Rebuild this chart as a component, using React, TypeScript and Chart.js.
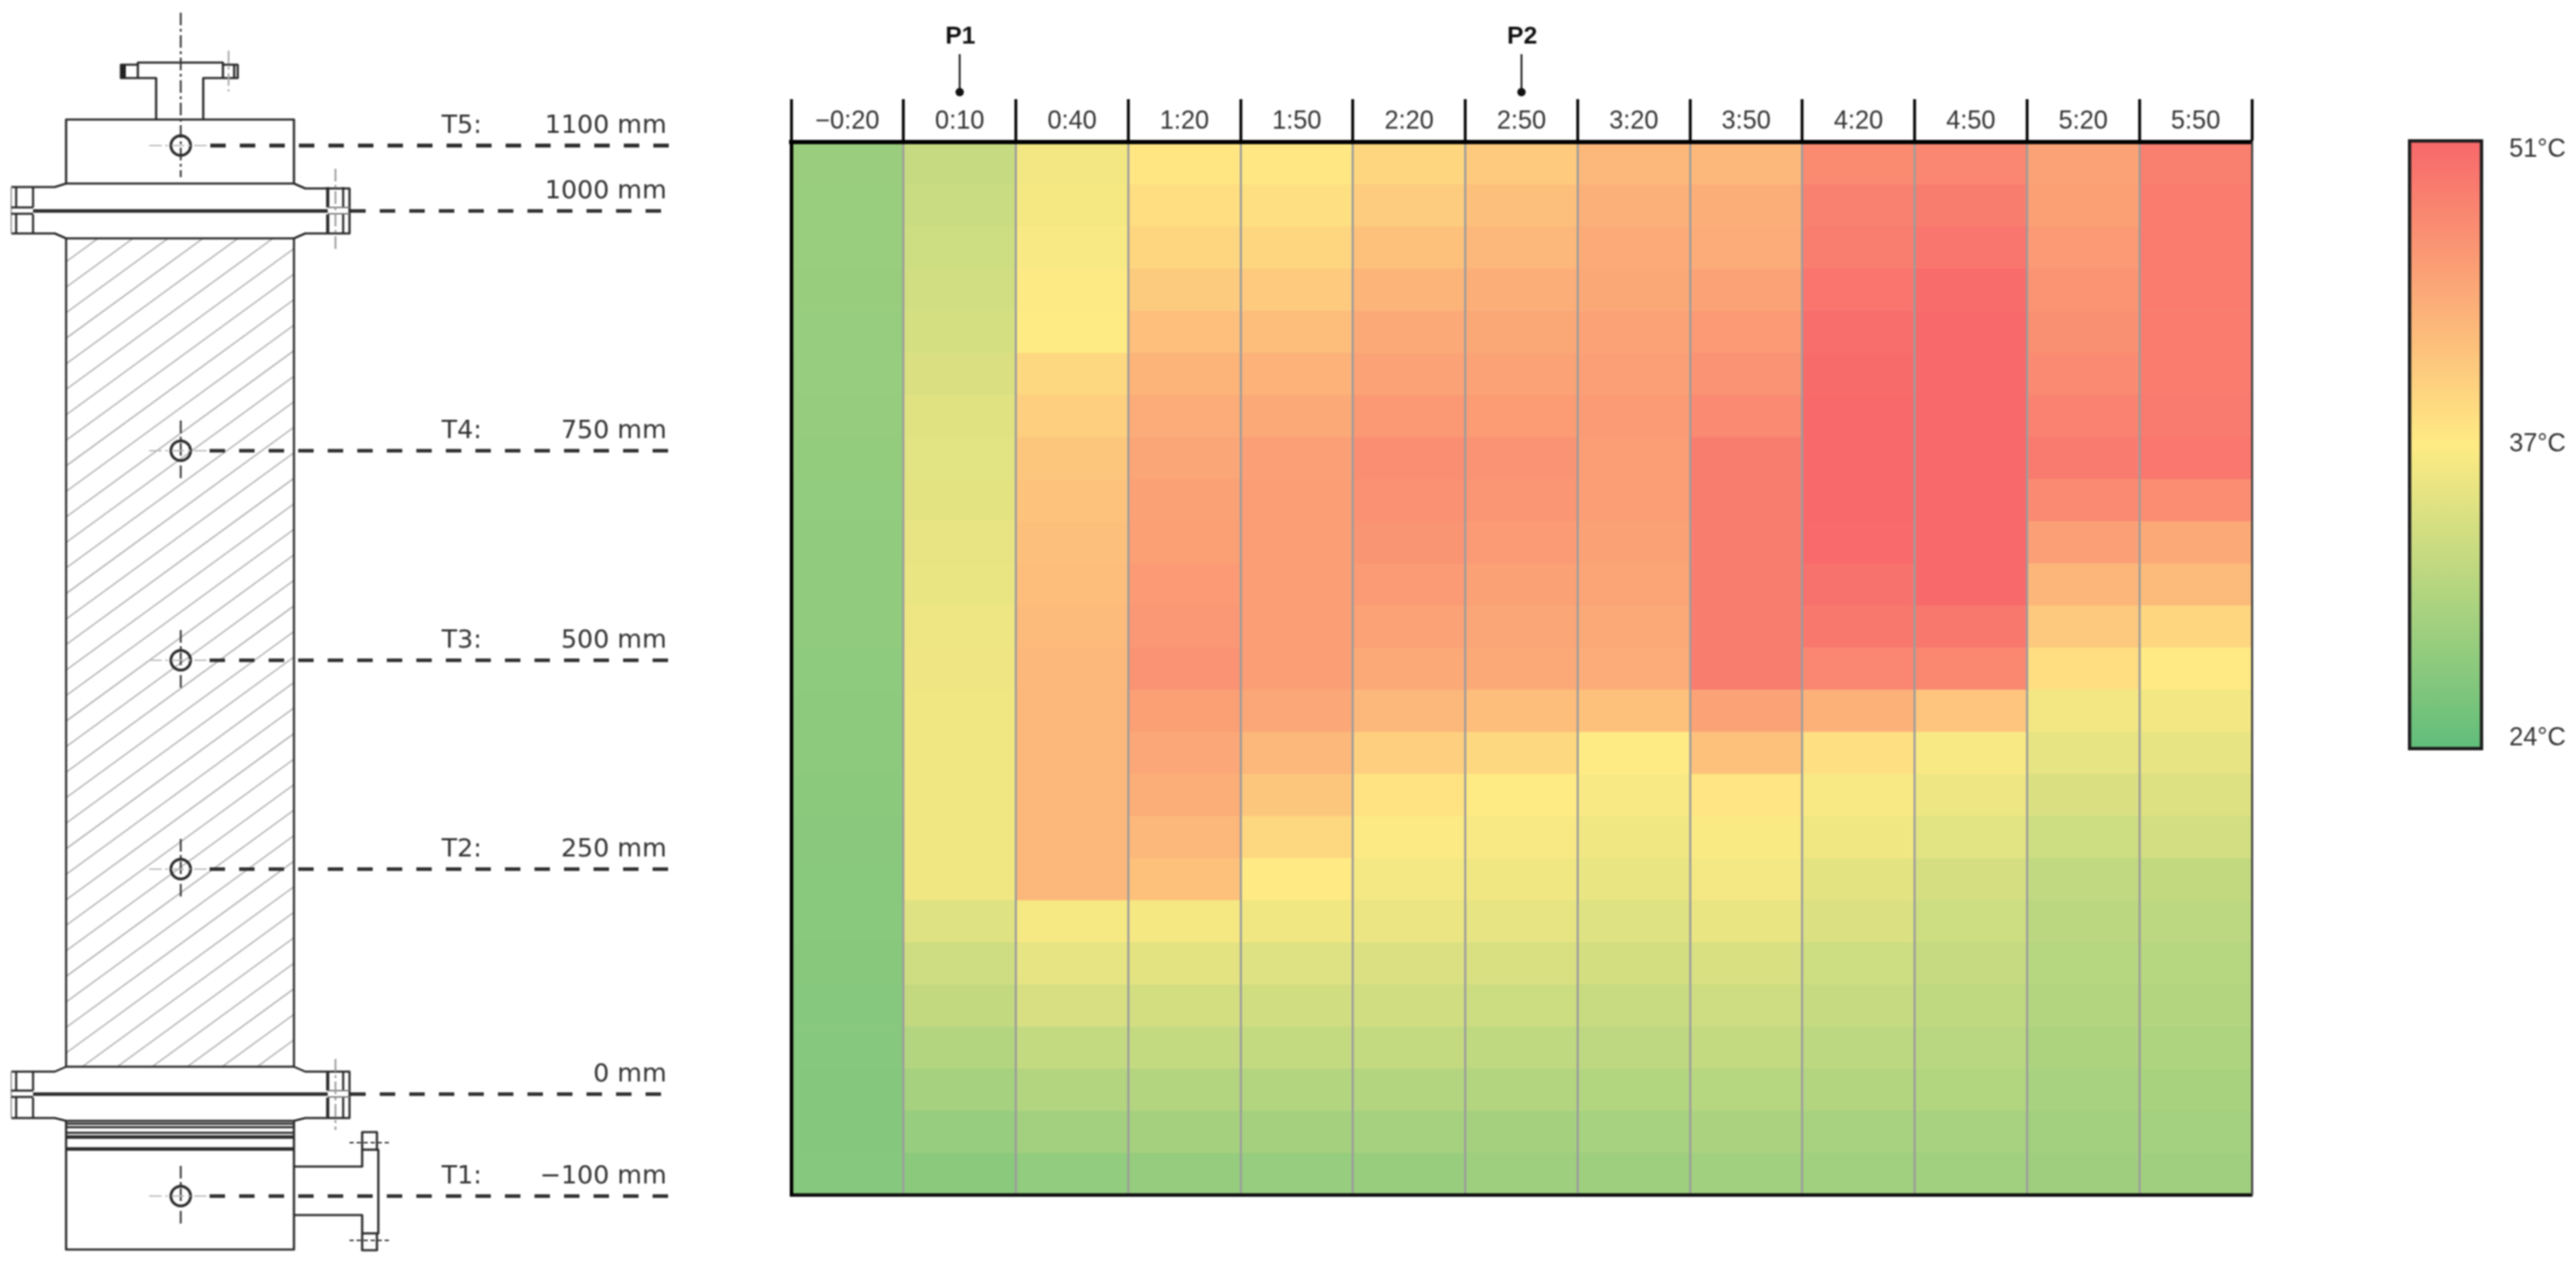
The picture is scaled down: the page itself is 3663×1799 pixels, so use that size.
import React, { useEffect, useRef } from "react";
import { Chart, registerables } from "chart.js";

Chart.register(...registerables);

const timeLabels = ["\u22120:20", "0:10", "0:40", "1:20", "1:50", "2:20", "2:50", "3:20", "3:50", "4:20", "4:50", "5:20", "5:50"];

// Temperature (deg C) per column, from the top row to the bottom row.
const tMinus020 = [28.8, 28.7, 28.7, 28.6, 28.5, 28.4, 28.3, 28.2, 28.1, 28.0, 27.9, 27.9, 27.8, 27.7, 27.6, 27.5, 27.4, 27.3, 27.2, 27.1, 27.0, 27.0, 26.9, 26.9, 27.0];
const t010 = [32.6, 32.9, 33.2, 33.5, 33.8, 34.3, 34.8, 35.0, 35.2, 35.5, 35.7, 36.0, 36.1, 36.2, 36.2, 36.2, 36.2, 36.2, 34.7, 33.3, 32.2, 31.0, 29.8, 28.5, 27.5];
const t040 = [36.4, 36.6, 36.9, 37.3, 37.5, 39.5, 40.4, 41.3, 41.7, 42.0, 42.3, 42.6, 42.8, 42.9, 42.9, 42.9, 42.9, 42.9, 36.7, 35.3, 34.0, 32.4, 30.9, 29.5, 28.1];
const t120 = [38.0, 38.9, 39.7, 40.8, 42.1, 43.2, 44.0, 44.7, 45.2, 45.4, 45.9, 46.2, 46.6, 45.4, 44.6, 43.8, 42.9, 41.9, 36.6, 35.1, 33.7, 32.4, 30.9, 29.7, 28.3];
const t150 = [37.8, 38.6, 39.7, 40.9, 42.2, 43.4, 44.3, 45.3, 45.5, 45.5, 45.5, 45.5, 45.5, 44.6, 42.9, 41.3, 39.5, 37.6, 36.2, 34.7, 33.4, 32.4, 31.0, 29.7, 28.5];
const t220 = [39.7, 40.7, 41.9, 43.2, 44.3, 45.0, 46.0, 47.2, 46.8, 46.4, 45.8, 45.1, 44.4, 42.8, 40.4, 38.4, 37.2, 36.5, 35.8, 34.4, 33.4, 32.3, 30.9, 29.8, 28.6];
const t250 = [40.9, 42.0, 42.9, 43.8, 44.5, 45.0, 45.7, 46.6, 46.3, 45.8, 45.2, 44.7, 44.3, 42.3, 39.5, 37.5, 36.9, 36.2, 35.3, 34.1, 33.1, 32.0, 30.9, 29.7, 29.0];
const t320 = [42.9, 43.6, 44.1, 44.5, 45.0, 45.3, 45.8, 45.6, 45.5, 45.2, 44.9, 44.4, 44.0, 41.9, 37.5, 36.9, 36.2, 35.6, 34.7, 33.7, 32.7, 31.8, 30.8, 29.9, 29.0];
const t350 = [42.8, 43.8, 44.0, 45.0, 45.9, 46.6, 47.6, 48.9, 48.9, 48.9, 48.9, 48.9, 48.9, 45.0, 41.9, 38.1, 37.1, 36.5, 35.6, 34.1, 33.3, 32.3, 31.2, 30.2, 29.4];
const t420 = [47.5, 48.5, 48.8, 49.8, 50.5, 50.8, 51.0, 51.0, 51.0, 50.9, 50.1, 49.4, 47.9, 43.5, 38.7, 37.0, 36.2, 35.2, 34.4, 33.2, 32.6, 31.7, 30.9, 30.0, 29.4];
const t450 = [47.9, 48.9, 49.6, 50.7, 51.0, 51.0, 51.0, 51.0, 51.0, 51.0, 51.0, 49.4, 47.8, 41.4, 37.0, 36.0, 35.0, 33.9, 33.2, 32.5, 32.0, 31.4, 30.8, 30.0, 29.4];
const t520 = [45.0, 45.4, 45.9, 46.5, 47.0, 47.6, 48.3, 49.1, 47.6, 45.3, 43.0, 41.0, 38.9, 36.4, 35.4, 34.3, 33.2, 32.1, 31.6, 31.3, 30.9, 30.4, 30.0, 29.5, 29.2];
const t550 = [48.7, 49.0, 49.0, 49.0, 49.0, 49.0, 49.1, 49.5, 47.3, 44.4, 42.5, 39.7, 37.6, 36.4, 35.4, 34.6, 33.6, 32.2, 31.7, 31.3, 30.9, 30.5, 30.1, 29.6, 29.3];

const columns = [tMinus020, t010, t040, t120, t150, t220, t250, t320, t350, t420, t450, t520, t550];

const colorMin = 24;
const colorMid = 37.5;
const colorMax = 51;
const cMinRGB = [0x63, 0xbe, 0x7b];
const cMidRGB = [0xff, 0xeb, 0x84];
const cMaxRGB = [0xf8, 0x69, 0x6b];

const legendTicks = [24, 37.5, 51];
const legendLabels = ["24\u00b0C", "37\u00b0C", "51\u00b0C"];

const peaks = [{ label: "P1", at: "0:10" }, { label: "P2", at: "2:50" }];

const sensorLevels = [
  { y: 207, tag: "T5:", height: "1100 mm", from: 299, weight: 5.5 },
  { y: 300, tag: "", height: "1000 mm", from: 498, weight: 5 },
  { y: 641, tag: "T4:", height: "750 mm", from: 298, weight: 5 },
  { y: 939, tag: "T3:", height: "500 mm", from: 298, weight: 5 },
  { y: 1236, tag: "T2:", height: "250 mm", from: 298, weight: 5 },
  { y: 1556, tag: "", height: "0 mm", from: 498, weight: 5 },
  { y: 1701, tag: "T1:", height: "\u2212100 mm", from: 298, weight: 5 },
];

function colorOf(v: number) {
  const lo = v <= colorMid;
  const t = lo ? (v - colorMin) / (colorMid - colorMin) : (v - colorMid) / (colorMax - colorMid);
  const a = lo ? cMinRGB : cMidRGB;
  const b = lo ? cMidRGB : cMaxRGB;
  const m = a.map((c, i) => Math.round(c + (b[i] - c) * t));
  return `rgb(${m[0]},${m[1]},${m[2]})`;
}

const INK = "#2a2a2a";

function poly(c: CanvasRenderingContext2D, pts: number[][]) {
  c.beginPath();
  pts.forEach((p, i) => (i ? c.lineTo(p[0], p[1]) : c.moveTo(p[0], p[1])));
  c.stroke();
}

function centerDash(c: CanvasRenderingContext2D, x1: number, y1: number, x2: number, y2: number, color = "#333", width = 2.6) {
  c.save();
  c.lineWidth = width;
  c.strokeStyle = color;
  c.setLineDash([18, 5, 4, 5]);
  poly(c, [[x1, y1], [x2, y2]]);
  c.restore();
}

function flange(c: CanvasRenderingContext2D, topL: number, topR: number, seam: number, bottom: number, shTop: number, shBottom: number) {
  poly(c, [[94, shTop], [418, shTop], [434, topR], [497, topR], [497, bottom], [434, bottom], [418, shBottom], [94, shBottom], [78, bottom], [16, bottom]]);
  poly(c, [[94, shTop], [78, topL], [16, topL]]);
  c.save();
  c.lineWidth = 5;
  poly(c, [[47, seam], [466, seam]]);
  c.restore();
  c.lineWidth = 3;
  [23, 47, 466, 488].forEach((x) => {
    c.lineWidth = x === 466 ? 4.5 : 3;
    poly(c, [[x, topL], [x, seam - 5]]);
    poly(c, [[x, seam + 5], [x, bottom]]);
  });
  c.lineWidth = 3;
  c.save();
  c.strokeStyle = "#999";
  c.lineWidth = 2;
  poly(c, [[16, topL], [16, bottom]]);
  c.restore();
  poly(c, [[16, seam - 5], [47, seam - 5]]);
  poly(c, [[16, seam + 4], [47, seam + 4]]);
  c.save();
  c.strokeStyle = "#777";
  c.lineWidth = 2;
  poly(c, [[466, seam - 5], [497, seam - 5]]);
  poly(c, [[466, seam + 4], [497, seam + 4]]);
  c.restore();
}

function drawSchematic(c: CanvasRenderingContext2D) {
  c.save();
  c.strokeStyle = INK;
  c.lineWidth = 3.2;
  c.lineJoin = "round";
  // hatching of the packed section
  c.save();
  c.beginPath();
  c.rect(94, 339, 324, 1178);
  c.clip();
  c.strokeStyle = "#b2b2b2";
  c.lineWidth = 2;
  for (let i = -20; i < 42; i++) {
    const y0 = 590 + i * 36.3;
    poly(c, [[94, y0], [418, y0 - 324 * 0.73]]);
  }
  c.restore();
  // top nozzle
  poly(c, [[222, 170], [222, 111], [172, 111], [172, 92], [196, 92], [196, 89], [317, 89], [317, 92], [338, 92], [338, 111], [289, 111], [289, 170]]);
  poly(c, [[196, 92], [196, 111]]);
  poly(c, [[317, 92], [317, 111]]);
  poly(c, [[333, 92], [333, 111]]);
  c.save();
  c.fillStyle = "#222";
  c.fillRect(172, 92, 7, 19);
  c.restore();
  centerDash(c, 325, 72, 325, 130, "#aaa", 2.5);
  // head
  poly(c, [[94, 261], [94, 170], [418, 170], [418, 261]]);
  flange(c, 266, 268, 300, 332, 261, 339);
  poly(c, [[94, 339], [94, 1517]]);
  poly(c, [[418, 339], [418, 1517]]);
  flange(c, 1524, 1524, 1556, 1590, 1517, 1594);
  // base
  c.lineWidth = 3.2;
  poly(c, [[94, 1594], [94, 1777], [418, 1777], [418, 1594]]);
  [1598, 1603, 1611].forEach((y) => poly(c, [[94, y], [418, y]]));
  c.lineWidth = 5;
  poly(c, [[94, 1617], [418, 1617]]);
  poly(c, [[94, 1634], [418, 1634]]);
  c.lineWidth = 3.2;
  // side pipe and plate
  poly(c, [[418, 1659], [515, 1659], [515, 1610], [536, 1610], [536, 1635], [538, 1635], [538, 1754], [536, 1754], [536, 1778], [515, 1778], [515, 1728], [418, 1728]]);
  poly(c, [[515, 1635], [536, 1635]]);
  poly(c, [[515, 1754], [536, 1754]]);
  c.save();
  c.setLineDash([6, 4]);
  c.lineWidth = 2;
  poly(c, [[497, 1625], [553, 1625]]);
  poly(c, [[497, 1764], [553, 1764]]);
  c.restore();
  // bolt centre lines
  centerDash(c, 477, 240, 477, 358, "#999", 2.5);
  centerDash(c, 477, 1506, 477, 1607, "#999", 2.5);
  // vertical centre of the top
  centerDash(c, 257, 18, 257, 252);
  // levels
  sensorLevels.forEach((l) => {
    c.save();
    c.strokeStyle = "#2b2b2b";
    c.lineWidth = l.weight;
    c.setLineDash([22, 20]);
    poly(c, [[l.from, l.y], [953, l.y]]);
    c.restore();
    c.fillStyle = "#333";
    c.font = "36px 'DejaVu Sans'";
    c.textBaseline = "alphabetic";
    c.textAlign = "right";
    c.fillText(l.height, 948, l.y - 18);
    if (l.tag) {
      c.textAlign = "left";
      c.fillText(l.tag, 628, l.y - 18);
      c.lineWidth = 4;
      c.beginPath();
      c.arc(257, l.y, 14, 0, Math.PI * 2);
      c.stroke();
      if (l.y !== 207) centerDash(c, 257, l.y - 43, 257, l.y + 44);
      centerDash(c, 212, l.y, 297, l.y, "#bbb", 2);
      c.lineWidth = 3.2;
    }
  });
  c.restore();
}

const schematicPlugin = {
  id: "schematic",
  afterDraw(chart: any) {
    drawSchematic(chart.ctx);
  },
};

const peakPlugin = {
  id: "peaks",
  afterDraw(chart: any) {
    const c: CanvasRenderingContext2D = chart.ctx;
    const xs = chart.scales.x;
    c.save();
    peaks.forEach((p) => {
      const x = xs.getPixelForValue(timeLabels.indexOf(p.at));
      c.strokeStyle = "#111";
      c.fillStyle = "#111";
      c.lineWidth = 2.5;
      c.beginPath();
      c.moveTo(x, 77);
      c.lineTo(x, 128);
      c.stroke();
      c.beginPath();
      c.ellipse(x, 131, 6, 6, 0, 0, Math.PI * 2);
      c.fill();
      c.font = "bold 35px 'Liberation Sans'";
      c.textAlign = "center";
      c.textBaseline = "middle";
      c.fillText(p.label, x + 1, 52);
    });
    c.restore();
  },
};

export default function App() {
  const heatRef = useRef<HTMLCanvasElement>(null);
  const barRef = useRef<HTMLCanvasElement>(null);

  useEffect(() => {
    const rowCount = columns[0].length;
    const rows = Array.from({ length: rowCount }, (_, r) => ({
      data: columns.map(() => [r, r + 1]),
      backgroundColor: columns.map((col) => colorOf(col[r])),
      borderWidth: 0,
      grouped: false,
      barPercentage: 1,
      categoryPercentage: 1,
    }));
    const heat = new Chart(heatRef.current!, {
      type: "bar",
      data: { labels: timeLabels, datasets: rows as any },
      plugins: [schematicPlugin, peakPlugin],
      options: {
        animation: false,
        responsive: false,
        events: [],
        layout: { padding: { left: 1125, right: 461, top: 141, bottom: 100 } },
        plugins: { legend: { display: false }, tooltip: { enabled: false } },
        scales: {
          x: {
            position: "top",
            type: "category",
            afterFit(s: any) { s.height = 61; },
            grid: { display: true, offset: true, color: "#9c9c9c", lineWidth: 3, drawTicks: true, tickLength: 61, tickColor: "#000", tickWidth: 4, z: 1 },
            border: { display: true, color: "#000", width: 6, z: 2 },
            ticks: { color: "#333", font: { family: "'Liberation Sans'", size: 36 }, padding: -54, maxRotation: 0, autoSkip: false, z: 2 },
          },
          xBottom: {
            position: "bottom",
            type: "category",
            afterFit(s: any) { s.height = 0; },
            grid: { display: false },
            border: { display: true, color: "#111", width: 5, z: 2 },
            ticks: { display: false },
          },
          y: {
            type: "linear",
            position: "left",
            reverse: true,
            min: 0,
            max: rowCount,
            afterFit(s: any) { s.width = 0; },
            grid: { display: false },
            border: { display: true, color: "#000", width: 5, z: 2 },
            ticks: { display: false },
          },
          yRight: {
            type: "linear",
            position: "right",
            afterFit(s: any) { s.width = 0; },
            grid: { display: false },
            border: { display: true, color: "#444", width: 3, z: 2 },
            ticks: { display: false },
          },
        },
      } as any,
    });

    const legend = new Chart(barRef.current!, {
      type: "bar",
      data: {
        labels: ["scale"],
        datasets: [
          {
            data: [[23.45, 51.5]],
            barPercentage: 1,
            categoryPercentage: 1,
            borderColor: "#1d1d1d",
            borderWidth: 5,
            borderSkipped: false,
            backgroundColor(ctx: any) {
              const { chart } = ctx;
              if (!chart.chartArea) return undefined;
              const ys = chart.scales.y;
              const g = chart.ctx.createLinearGradient(0, ys.getPixelForValue(51.3), 0, ys.getPixelForValue(23.7));
              g.addColorStop(0, colorOf(colorMax));
              g.addColorStop(0.5, colorOf(colorMid));
              g.addColorStop(1, colorOf(colorMin));
              return g;
            },
          },
        ] as any,
      },
      options: {
        animation: false,
        responsive: false,
        events: [],
        layout: { padding: { left: 124, right: 0, top: 198, bottom: 732 } },
        plugins: { legend: { display: false }, tooltip: { enabled: false } },
        scales: {
          x: { display: false },
          y: {
            position: "right",
            min: 23.45,
            max: 51.5,
            afterFit(s: any) { s.width = 132; },
            afterBuildTicks(s: any) { s.ticks = legendTicks.map((value) => ({ value })); },
            grid: { display: false, drawTicks: false },
            border: { display: false },
            ticks: {
              color: "#333",
              padding: 37,
              autoSkip: false,
              font: { family: "'Liberation Sans'", size: 36 },
              callback: (v: any) => legendLabels[legendTicks.indexOf(v)],
            },
          },
        },
      } as any,
    });

    return () => {
      heat.destroy();
      legend.destroy();
    };
  }, []);

  const soft = { filter: "blur(0.8px)" };
  return (
    <div style={{ position: "absolute", left: 0, top: 0, width: 3663, height: 1799, background: "#fff", overflow: "hidden" }}>
      <canvas ref={heatRef} width={3663} height={1799} style={{ position: "absolute", left: 0, top: 0, width: 3663, height: 1799, ...soft }} />
      <canvas ref={barRef} width={363} height={1799} style={{ position: "absolute", left: 3300, top: 0, width: 363, height: 1799, ...soft }} />
    </div>
  );
}
